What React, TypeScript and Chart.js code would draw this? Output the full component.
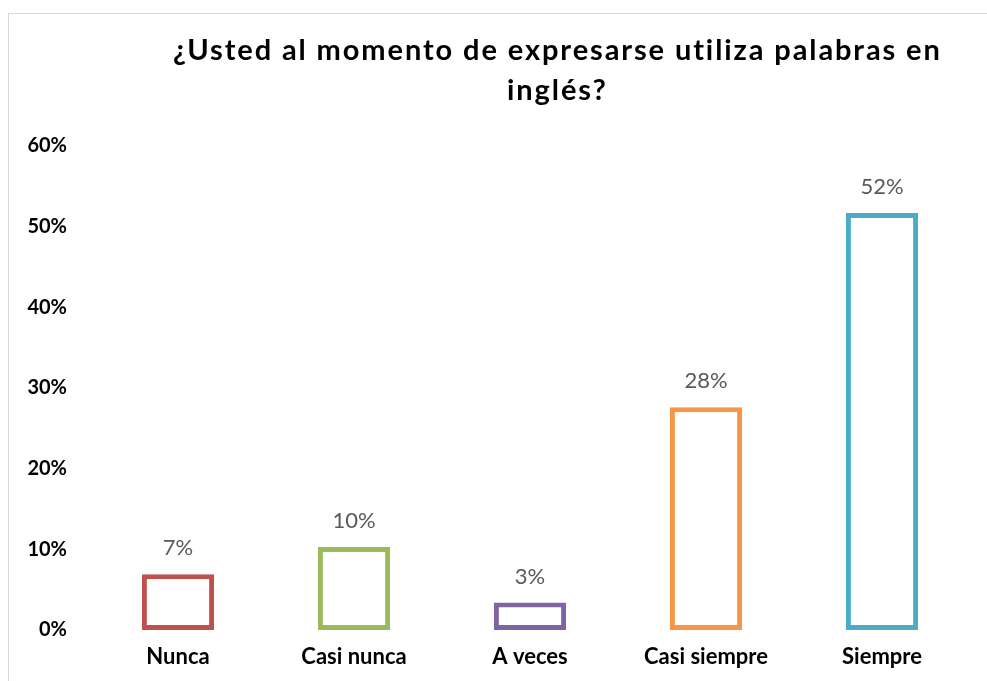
import React, { useEffect, useRef } from "react";
import { Chart, registerables } from "chart.js";

Chart.register(...registerables);

const TITLE_LINES = ["¿Usted al momento de expresarse utiliza palabras en", "inglés?"];
const CATEGORIES = ["Nunca", "Casi nunca", "A veces", "Casi siempre", "Siempre"];
const VALUES = [6.9, 10.3, 3.4, 27.6, 51.7];
const BAR_COLORS = ["#C0504D", "#9BBB59", "#8064A2", "#F79646", "#4BACC6"];
const Y_MIN = 0;
const Y_MAX = 60;
const Y_STEP = 10;

const FONT = "Lato, 'Open Sans', sans-serif";

const titlePlugin = {
  id: "customTitle",
  afterDraw(chart: any) {
    const ctx = chart.ctx;
    const area = chart.chartArea;
    const cx = area.left + (area.right - area.left) * 0.53;
    ctx.save();
    ctx.font = `bold 29px ${FONT}`;
    ctx.fillStyle = "#000000";
    ctx.textAlign = "center";
    ctx.textBaseline = "alphabetic";
    const spacing = 1.9;
    try {
      (ctx as any).letterSpacing = spacing + "px";
    } catch (e) {}
    TITLE_LINES.forEach((line, i) => {
      ctx.fillText(line, cx + spacing / 2, 46 + i * 40);
    });
    ctx.restore();
  },
};

const dataLabelPlugin = {
  id: "dataLabels",
  afterDatasetsDraw(chart: any) {
    const ctx = chart.ctx;
    const meta = chart.getDatasetMeta(0);
    const ds = chart.data.datasets[0];
    ctx.save();
    ctx.font = `22px ${FONT}`;
    ctx.fillStyle = "#595959";
    ctx.textAlign = "center";
    ctx.textBaseline = "middle";
    meta.data.forEach((bar: any, i: number) => {
      const v = ds.data[i] as number;
      ctx.fillText(Math.round(v) + "%", bar.x, bar.y - 26);
    });
    ctx.restore();
  },
};

export default function App() {
  const ref = useRef<HTMLCanvasElement | null>(null);

  useEffect(() => {
    if (!ref.current) return;
    const chart = new Chart(ref.current, {
      type: "bar",
      data: {
        labels: CATEGORIES,
        datasets: [
          {
            data: VALUES,
            backgroundColor: "#FFFFFF",
            borderColor: BAR_COLORS,
            borderWidth: 5,
            borderSkipped: false,
            barPercentage: 0.41,
            categoryPercentage: 1,
          },
        ],
      },
      options: {
        animation: false,
        responsive: false,
        maintainAspectRatio: false,
        devicePixelRatio: 1,
        layout: { padding: { left: 0, right: 17, top: 132, bottom: 11 } },
        plugins: {
          legend: { display: false },
          tooltip: { enabled: false },
          title: { display: false },
        },
        scales: {
          x: {
            grid: { display: false, drawTicks: false },
            border: { display: false },
            afterFit: (scale: any) => {
              scale.height = 40;
            },
            ticks: {
              color: "#000000",
              font: { family: FONT, size: 22, weight: "bold", lineHeight: 1.2 },
              padding: 14,
              maxRotation: 0,
            },
          },
          y: {
            min: Y_MIN,
            max: Y_MAX,
            grid: { display: false, drawTicks: false },
            border: { display: false },
            afterFit: (scale: any) => {
              scale.width = 81;
            },
            ticks: {
              stepSize: Y_STEP,
              color: "#000000",
              font: { family: FONT, size: 20, weight: "bold" },
              padding: 23,
              callback: (v: any) => v + "%",
            },
          },
        },
      },
      plugins: [dataLabelPlugin, titlePlugin],
    });
    return () => chart.destroy();
  }, []);

  return (
    <div
      style={{
        position: "fixed",
        left: 8,
        top: 13,
        width: 1000,
        height: 700,
        borderLeft: "1px solid #d9d9d9",
        borderTop: "1px solid #d9d9d9",
        background: "#ffffff",
      }}
    >
      <canvas ref={ref} width={978} height={667} style={{ display: "block" }} />
    </div>
  );
}
